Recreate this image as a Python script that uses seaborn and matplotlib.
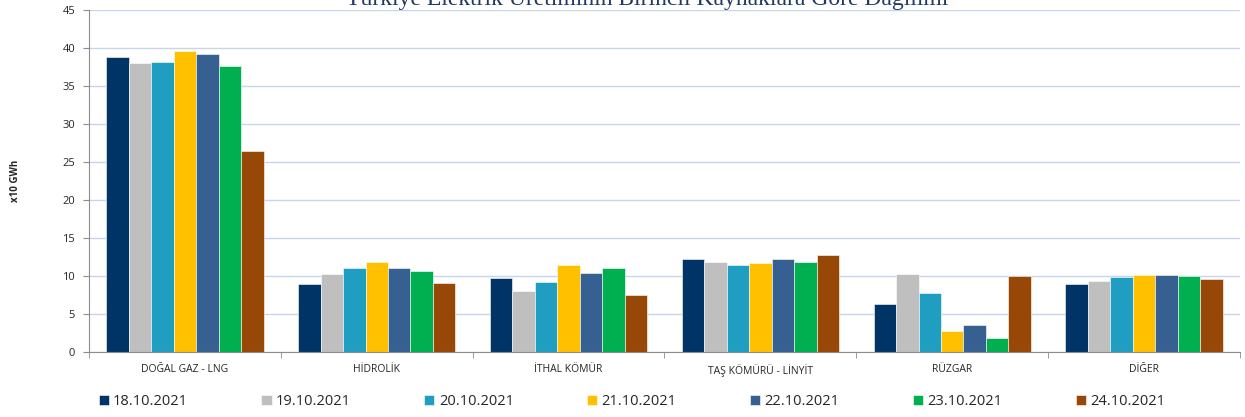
import matplotlib
matplotlib.use('Agg')
import matplotlib.pyplot as plt
import seaborn as sns
import pandas as pd
import numpy as np

# chart data
sources = ['DOĞAL GAZ - LNG', 'HİDROLİK', 'İTHAL KÖMÜR', 'TAŞ KÖMÜRÜ - LİNYİT', 'RÜZGAR', 'DİĞER']
dates = ['18.10.2021', '19.10.2021', '20.10.2021', '21.10.2021', '22.10.2021', '23.10.2021', '24.10.2021']

d18 = [38.8, 9.0, 9.8, 12.2, 6.3, 8.9]
d19 = [38.0, 10.2, 8.0, 11.9, 10.3, 9.3]
d20 = [38.2, 11.1, 9.2, 11.5, 7.8, 9.9]
d21 = [39.6, 11.9, 11.4, 11.7, 2.7, 10.1]
d22 = [39.2, 11.0, 10.4, 12.2, 3.6, 10.1]
d23 = [37.6, 10.7, 11.0, 11.9, 1.8, 10.0]
d24 = [26.4, 9.1, 7.5, 12.8, 10.0, 9.6]

colors = ['#003366', '#BFBFBF', '#1F9EC2', '#FFC000', '#366092', '#00B050', '#974706']

series = [d18, d19, d20, d21, d22, d23, d24]
rows = []
for date, vals in zip(dates, series):
    for src, v in zip(sources, vals):
        rows.append({'Kaynak': src, 'Tarih': date, 'Deger': v})
df = pd.DataFrame(rows)

sns.set_style('white')
plt.rcParams['font.family'] = ['Open Sans', 'DejaVu Sans']

fig = plt.figure(figsize=(12.45, 4.17), dpi=100)
ax = fig.add_axes([89 / 1245, 1 - 352 / 417, (1240 - 89) / 1245, 342 / 417])

sns.barplot(data=df, x='Kaynak', y='Deger', hue='Tarih', order=sources, hue_order=dates,
            palette=colors, width=0.82, gap=0, saturation=1, ax=ax,
            edgecolor='white', linewidth=0.4, legend=True)

ax.set_ylim(0, 45)
ax.set_xlim(-0.5, len(sources) - 0.5)
ax.set_yticks(np.arange(0, 46, 5))
ax.yaxis.grid(True, color='#C6D6EC', linewidth=1)
ax.set_axisbelow(True)
for s in ['top', 'right']:
    ax.spines[s].set_visible(False)
ax.spines['left'].set_color('#8C8C8C')
ax.spines['bottom'].set_color('#8C8C8C')
ax.tick_params(axis='y', labelsize=8, length=4, color='#8C8C8C', left=True, pad=6)
ax.tick_params(axis='x', labelsize=7.5, length=0, pad=9)
ax.set_xticks(np.arange(-0.5, len(sources), 1), minor=True)
ax.tick_params(axis='x', which='minor', length=4, color='#8C8C8C', bottom=True)
ax.set_xlabel('')
ax.set_ylabel('x10 GWh', fontsize=7, fontweight='bold', labelpad=30)

handles, labels = ax.get_legend_handles_labels()
ax.get_legend().remove()
fig.legend(handles, labels, ncol=7, loc='lower left', bbox_to_anchor=(0.0745, 0.005, 0.866, 0.06),
           mode='expand', frameon=False, fontsize=10.5, handlelength=0.7, handleheight=0.7,
           handletextpad=0.3, borderaxespad=0)

# title sits partly above the top edge, as in the reference
fig.text(0.52, 1 - 5 / 417, 'Türkiye Elektrik Üretiminin Birincil Kaynaklara Göre Dağılımı',
         ha='center', va='baseline', fontsize=17, color='#1F3864', family='Liberation Serif')

fig.savefig('out.png', dpi=100)
